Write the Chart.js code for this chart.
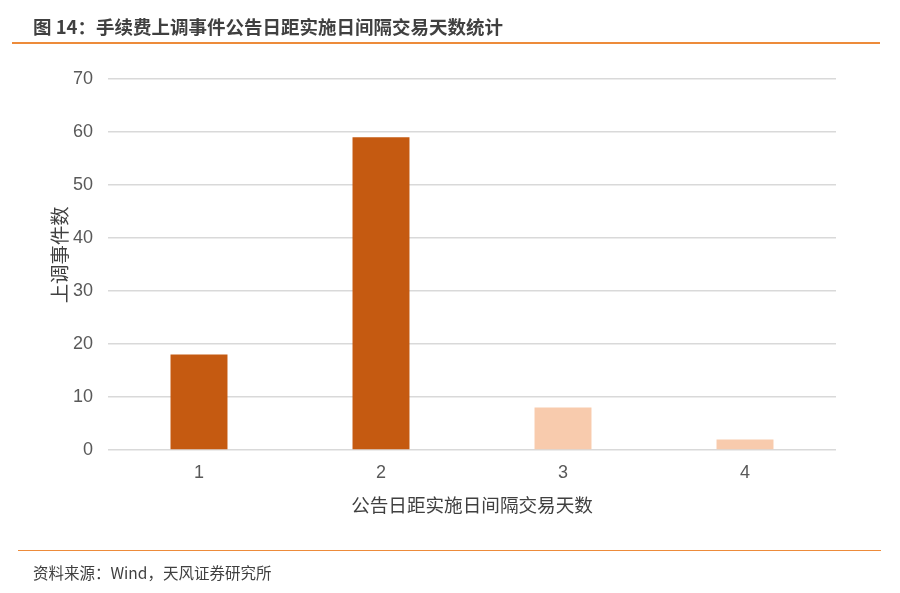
<!DOCTYPE html>
<html><head><meta charset="utf-8">
<script src="https://cdn.jsdelivr.net/npm/chart.js@4/dist/chart.umd.min.js"></script>
<style>
html,body{margin:0;padding:0;background:#fff;}
#wrap{position:relative;width:900px;height:593px;}
#c{position:absolute;left:0;top:0;}
.t{position:absolute;font-family:"Noto Sans CJK SC",sans-serif;color:#404040;white-space:nowrap;}
#title{left:33px;top:12px;font-size:18.5px;font-weight:bold;line-height:28px;}
#src{left:33px;top:560px;font-size:15.5px;line-height:24px;}
.ln{position:absolute;height:1.5px;background:#ED8B3A;}
</style></head>
<body>
<div id="wrap">
<canvas id="c" width="900" height="593"></canvas>
<div class="t" id="title">图 14：手续费上调事件公告日距实施日间隔交易天数统计</div>
<div class="ln" style="left:12px;top:42px;width:868px;"></div>
<div class="ln" style="left:18px;top:549.5px;width:863px;"></div>
<div class="t" id="src">资料来源：Wind，天风证券研究所</div>
</div>
<script>
const categories = ['1','2','3','4'];
const counts = [18, 59, 8, 2];
const barColors = ['#C55A11','#C55A11','#F8CBAD','#F8CBAD'];
const xTitle = '公告日距实施日间隔交易天数';
const yTitle = '\u3000上调事件数';

new Chart(document.getElementById('c'), {
  type: 'bar',
  data: {
    labels: categories,
    datasets: [{ data: counts, backgroundColor: barColors, categoryPercentage: 1, barPercentage: 0.313 }]
  },
  options: {
    responsive: false,
    animation: false,
    layout: { padding: { left: 40, right: 64, top: 79, bottom: 70 } },
    plugins: { legend: { display: false }, tooltip: { enabled: false } },
    scales: {
      x: {
        grid: { display: false, drawTicks: false },
        border: { display: false },
        ticks: { color: '#595959', font: { family: 'Liberation Sans, Arial', size: 18 }, padding: 12 },
        title: { display: true, text: xTitle, color: '#404040', font: { family: 'Noto Sans CJK SC', size: 18.6 }, padding: { top: 0, bottom: 7 } },
        afterFit: s => { s.height = 73; }
      },
      y: {
        min: 0, max: 70,
        ticks: { stepSize: 10, color: '#595959', font: { family: 'Liberation Sans, Arial', size: 18 }, padding: 15 },
        grid: { color: '#D9D9D9', lineWidth: 1.5, drawTicks: false },
        border: { display: false },
        title: { display: true, text: yTitle, color: '#404040', font: { family: 'Noto Sans CJK SC', size: 19.4 }, padding: { top: 8, bottom: 0 } },
        afterFit: s => { s.width = 68; }
      }
    }
  }
});
</script>
</body></html>
